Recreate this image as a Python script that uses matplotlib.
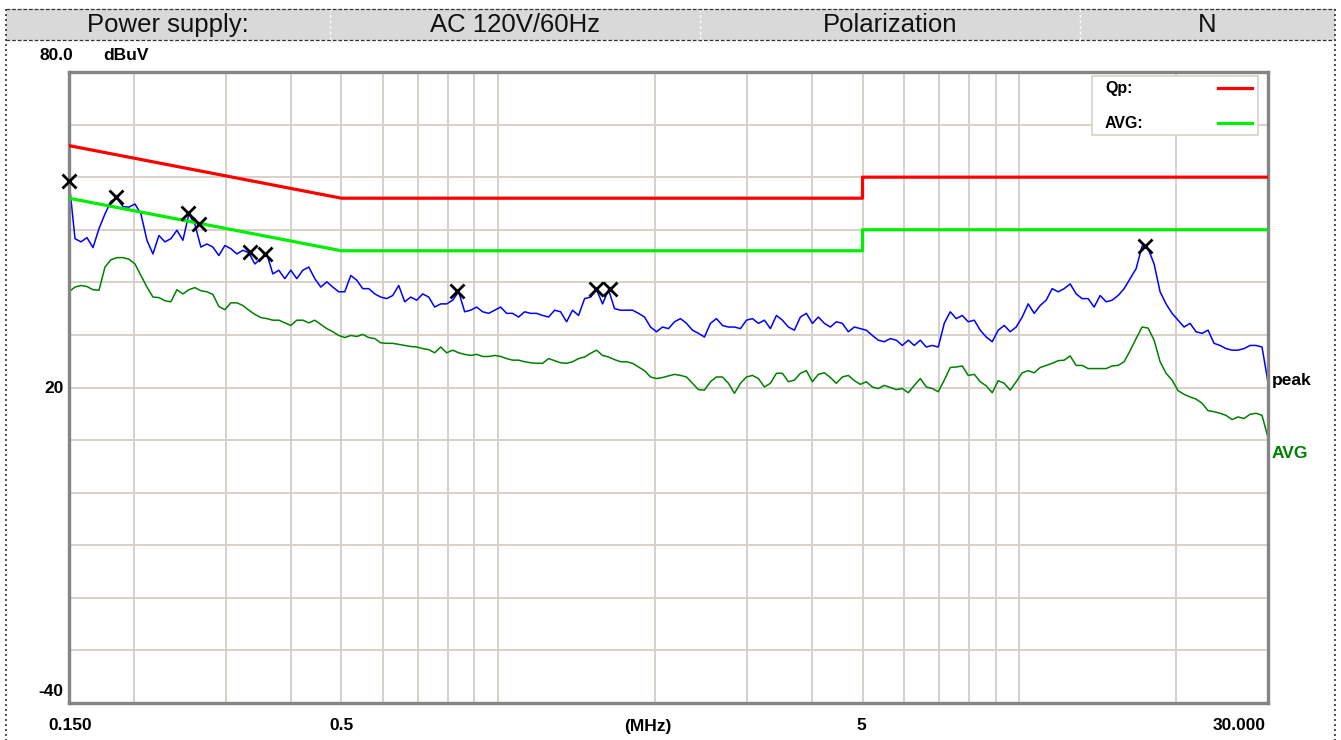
import numpy as np
import matplotlib.pyplot as plt
from matplotlib.patches import Rectangle
from matplotlib.lines import Line2D

# header table
header_text = ['Power supply:', 'AC 120V/60Hz', 'Polarization', 'N']

# limit lines (MHz, dBuV)
qp_freq = [0.15, 0.5, 5, 5, 30]
qp_limit = [66, 56, 56, 60, 60]
avg_freq = [0.15, 0.5, 5, 5, 30]
avg_limit = [56, 46, 46, 50, 50]

peak_level = [
    59.4, 48.3, 47.7, 48.5, 46.6, 50.2, 53.0, 55.4, 56.0, 54.4,
    54.3, 54.9, 53.0, 48.0, 45.4, 48.9, 47.7, 48.3, 49.9, 48.0,
    53.0, 51.0, 46.7, 47.3, 46.7, 45.1, 47.0, 46.4, 45.4, 46.1,
    45.6, 43.5, 44.5, 45.4, 41.6, 42.3, 40.7, 42.3, 40.7, 42.3, 42.9,
    40.7, 39.1, 40.1, 39.1, 38.2, 38.2, 41.3, 40.4, 38.8, 38.8,
    37.8, 37.2, 36.9, 37.5, 39.4, 36.3, 37.2, 36.6, 37.8, 37.2,
    35.3, 35.9, 35.9, 36.6, 38.2, 34.4, 34.7, 35.3, 34.4, 34.1,
    34.7, 35.3, 34.1, 34.1, 33.4, 34.4, 34.1, 34.1, 33.7, 33.4,
    34.7, 34.4, 32.5, 34.7, 33.7, 36.9, 37.2, 38.6, 35.9, 38.6,
    35.0, 34.7, 34.7, 34.7, 34.1, 33.4, 31.5, 30.6, 31.5, 31.2,
    32.5, 33.1, 32.2, 30.9, 30.3, 29.6, 32.2, 33.1, 31.8, 31.5,
    31.5, 31.2, 32.8, 33.1, 32.2, 32.8, 31.2, 33.7, 32.8, 31.5,
    30.9, 33.4, 34.1, 32.2, 33.4, 32.2, 31.5, 32.5, 32.2, 30.6,
    31.5, 31.2, 30.9, 29.9, 29.0, 28.7, 29.3, 29.0, 28.0, 29.0,
    28.0, 29.0, 27.7, 28.0, 27.7, 32.2, 34.4, 33.1, 33.7, 32.5,
    32.8, 30.9, 29.6, 28.7, 30.9, 31.8, 30.6, 31.5, 33.4, 35.9,
    34.1, 35.6, 36.6, 38.8, 38.2, 38.8, 39.7, 37.8, 36.9, 36.9,
    35.3, 37.5, 36.3, 36.6, 37.5, 38.8, 40.7, 42.6, 46.9, 46.4,
    43.5, 38.2, 35.9, 34.1, 32.8, 31.5, 32.2, 30.6, 30.3, 30.9,
    28.4, 28.0, 27.4, 27.1, 27.1, 27.4, 28.0, 28.0, 27.7, 21.0,
]
avg_level = [
    38.2, 39.1, 39.4, 39.2, 38.6, 38.5, 42.9, 44.3, 44.7, 44.7,
    44.4, 43.5, 41.3, 39.1, 37.2, 37.1, 36.5, 36.3, 38.6, 37.8,
    38.6, 39.0, 38.4, 38.2, 37.7, 35.4, 34.8, 36.1, 36.1, 35.6,
    34.7, 33.9, 33.3, 33.1, 32.8, 32.8, 32.3, 31.8, 32.8, 32.8, 32.3,
    32.8, 32.0, 31.2, 30.6, 29.9, 29.5, 29.9, 29.7, 30.1, 29.5,
    29.3, 28.5, 28.4, 28.4, 28.2, 28.0, 27.8, 27.7, 27.4, 27.2,
    26.6, 27.7, 26.6, 27.1, 26.6, 26.3, 26.1, 26.3, 25.9, 25.9,
    26.1, 25.9, 25.5, 25.2, 25.2, 24.9, 24.7, 24.6, 24.6, 25.5,
    25.1, 24.7, 24.6, 24.9, 25.5, 25.8, 26.5, 27.1, 26.1, 25.8,
    25.3, 24.9, 24.9, 24.6, 23.9, 23.2, 22.0, 21.7, 21.9, 22.2,
    22.5, 22.3, 22.0, 20.8, 19.6, 19.5, 21.1, 22.0, 22.0, 20.8,
    18.9, 20.8, 22.0, 22.3, 21.7, 20.1, 20.8, 22.7, 22.7, 21.1,
    21.4, 22.7, 23.2, 21.1, 22.5, 22.8, 21.9, 20.8, 22.0, 22.3,
    21.3, 20.6, 21.1, 20.1, 19.8, 20.4, 20.0, 19.6, 19.8, 19.0,
    20.4, 21.7, 20.1, 19.8, 19.2, 21.4, 23.8, 23.9, 24.1, 22.3,
    22.5, 21.1, 20.3, 19.0, 21.3, 20.8, 19.5, 21.1, 22.8, 23.2,
    22.8, 23.8, 24.2, 24.6, 25.1, 25.2, 26.0, 24.2, 24.2, 23.6,
    23.6, 23.6, 23.6, 24.1, 24.2, 24.9, 27.0, 29.3, 31.5, 31.3,
    29.0, 24.9, 22.7, 21.4, 19.4, 18.7, 18.2, 17.8, 17.0, 15.6,
    15.4, 15.1, 14.7, 13.9, 14.4, 14.1, 14.9, 15.1, 14.7, 10.5,
]
scan_freq = np.geomspace(0.15, 30, len(peak_level))

# peak markers
mark_freq = [0.150, 0.1845, 0.2537, 0.2664, 0.3338, 0.3566, 0.8328, 1.539, 1.637, 17.42]
mark_level = [59.3, 56.2, 53.2, 51.1, 45.8, 45.4, 38.3, 38.7, 38.7, 47.0]

grid_x = [0.2, 0.3, 0.4, 0.5, 0.6, 0.7, 0.8, 0.9, 1, 2, 3, 4, 5, 6, 7, 8, 9, 10, 20]
grid_y = list(range(-30, 80, 10))

FONT = ['Liberation Sans', 'DejaVu Sans']
plt.rcParams['font.family'] = FONT

W, H = 1341, 740
fig = plt.figure(figsize=(W / 100, H / 100), dpi=100)


def fx(px):
    return px / W


def fy(py):
    return 1 - py / H


# header band with cells
cells = [6, 330, 700, 1080, 1335]
fig.patches.append(Rectangle((fx(6), fy(40)), (1335 - 6) / W, 31 / H,
                             transform=fig.transFigure, facecolor='#d9d9d9',
                             edgecolor='none', zorder=0))
for i, t in enumerate(header_text):
    fig.text(fx((cells[i] + cells[i + 1]) / 2), fy(25), t, ha='center', va='center',
             fontsize=18.5, color='#111111')
for cx in cells[1:-1]:
    fig.add_artist(Line2D([fx(cx), fx(cx)], [fy(9), fy(40)], transform=fig.transFigure,
                          color='white', lw=1, ls=(0, (2, 2))))
for yy in [9, 40]:
    fig.add_artist(Line2D([fx(6), fx(1335)], [fy(yy), fy(yy)], transform=fig.transFigure,
                          color='#333333', lw=0.9, ls=(0, (3, 1.5))))
for xx in [6, 1335]:
    fig.add_artist(Line2D([fx(xx), fx(xx)], [fy(9), fy(740)], transform=fig.transFigure,
                          color='#333333', lw=1.2, ls=(0, (1.2, 1.8))))

ax = fig.add_axes([fx(69), fy(703), (1268 - 69) / W, (703 - 72) / H])
ax.set_xscale('log')
ax.set_xlim(0.15, 30)
ax.set_ylim(-40, 80)
ax.set_xticks(grid_x)
ax.set_xticks([], minor=True)
ax.set_yticks(grid_y)
ax.tick_params(length=0, labelbottom=False, labelleft=False)
ax.grid(True, color='#d6d2ca', lw=1.4)
for s in ax.spines.values():
    s.set_color('#858585')
    s.set_linewidth(2.4)

ax.plot(scan_freq, peak_level, color='#0000ff', lw=1.1, zorder=2)
ax.plot(scan_freq, avg_level, color='#008000', lw=1.1, zorder=2)
ax.plot(qp_freq, qp_limit, color='#ff0000', lw=2.3, zorder=3)
ax.plot(avg_freq, avg_limit, color='#00ee00', lw=2.3, zorder=3)
ax.plot(mark_freq, mark_level, ls='none', marker='x', color='black', ms=10, mew=2,
        zorder=4, clip_on=False)

# legend box (text left, line sample right)
fig.add_artist(Rectangle((fx(1092), fy(135)), (1258 - 1092) / W, (135 - 76) / H,
                         transform=fig.transFigure, facecolor='white',
                         edgecolor='#d6d2ca', lw=1.2, zorder=5))
for yy, name, col in [(88, 'Qp:', '#ff0000'), (123, 'AVG:', '#00ee00')]:
    fig.text(fx(1105), fy(yy), name, ha='left', va='center', fontsize=11.5,
             fontweight='bold', zorder=6)
    fig.add_artist(Line2D([fx(1218), fx(1252)], [fy(yy), fy(yy)], transform=fig.transFigure,
                          color=col, lw=2.3, zorder=6))

# axis labels
lab = dict(fontsize=12.5, fontweight='bold', color='black', va='center')
fig.text(fx(56), fy(55), '80.0', ha='center', **lab)
fig.text(fx(126), fy(55), 'dBuV', ha='center', **lab)
fig.text(fx(64), fy(389), '20', ha='right', **lab)
fig.text(fx(63), fy(692), '-40', ha='right', **lab)
xlab_y = fy(726)
fig.text(fx(70), xlab_y, '0.150', ha='center', **lab)
fig.text(fx(341), xlab_y, '0.5', ha='center', **lab)
fig.text(fx(648), xlab_y, '(MHz)', ha='center', **lab)
fig.text(fx(861), xlab_y, '5', ha='center', **lab)
fig.text(fx(1266), xlab_y, '30.000', ha='right', **lab)
fig.text(fx(1272), fy(380), 'peak', ha='left', **lab)
lab['color'] = '#008000'
fig.text(fx(1272), fy(453), 'AVG', ha='left', **lab)

fig.savefig('out.png', dpi=100)
plt.close(fig)
